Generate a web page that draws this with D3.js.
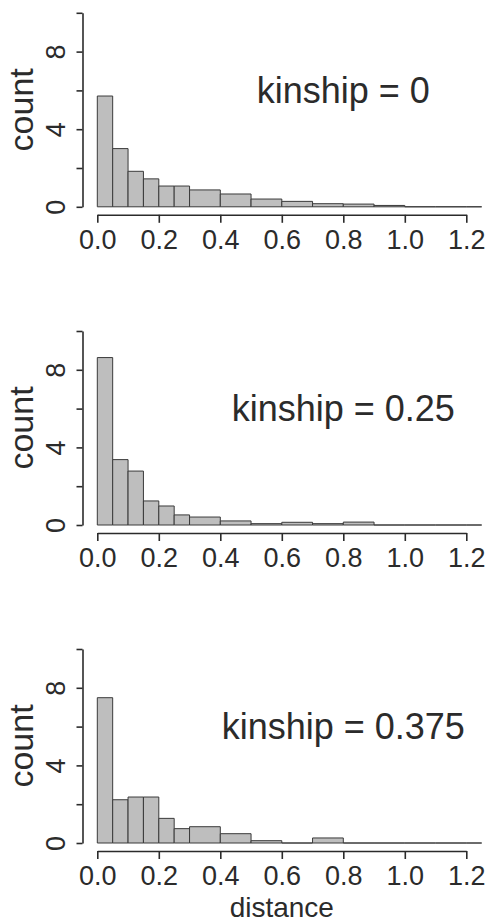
<!DOCTYPE html>
<html lang="en">
<head>
<meta charset="UTF-8">
<title>kinship histograms</title>
<script src="https://d3js.org/d3.v7.min.js"></script>
<style>
  html, body { margin: 0; padding: 0; background: #fff; }
  text { font-family: "Liberation Sans", Arial, sans-serif; fill: #2b2b2b; }
  .axis path, .axis line { fill: none; stroke: #2b2b2b; stroke-width: 1.6px; }
  path.bar { fill: #bebebe; stroke: #3a3a3a; stroke-width: 1px; }
</style>
</head>
<body>
<script>
// bin edges (distance) and count density per bin
var breaks = [0, 0.05, 0.1, 0.15, 0.2, 0.25, 0.3, 0.4, 0.5, 0.6, 0.7, 0.8, 0.9, 1.0, 1.1, 1.2, 1.3];
var kin0   = [5.71, 3.00, 1.83, 1.44, 1.07, 1.07, 0.87, 0.66, 0.40, 0.28, 0.16, 0.14, 0.07, 0, 0, 0];
var kin25  = [8.63, 3.37, 2.78, 1.24, 0.98, 0.52, 0.41, 0.21, 0.07, 0.14, 0.07, 0.15, 0, 0, 0, 0];
var kin375 = [7.49, 2.23, 2.37, 2.37, 1.27, 0.74, 0.84, 0.48, 0.12, 0, 0.26, 0, 0, 0, 0, 0];
var panelLabels = ["kinship = 0", "kinship = 0.25", "kinship = 0.375"];
var xTicks = [0, 0.2, 0.4, 0.6, 0.8, 1.0, 1.2];
var yTicks = [0, 2, 4, 6, 8, 10];
var yLabelled = [0, 4, 8];

var W = 488, H = 924;
var panelTops = [12.8, 331, 649];
var plotH = 194;

var x = d3.scaleLinear().domain([0, 1.2]).range([97.3, 466.3]);

var svg = d3.select("body").append("svg").attr("width", W).attr("height", H);

svg.append("clipPath").attr("id", "plotclip")
  .append("rect").attr("x", 0).attr("y", 0).attr("width", x(1.25)).attr("height", H);

[kin0, kin25, kin375].forEach(function(vals, i) {
  var top = panelTops[i];
  var y = d3.scaleLinear().domain([0, 10]).range([top + plotH, top]);
  var g = svg.append("g");

  var bins = vals.map(function(v, j) { return {x0: breaks[j], x1: breaks[j + 1], v: v}; });

  // bars as closed paths so empty bins still show as a flat line
  g.append("g").attr("clip-path", "url(#plotclip)")
    .selectAll("path").data(bins).join("path")
    .attr("class", "bar")
    .attr("d", function(d) {
      return "M" + x(d.x0) + "," + y(0) + "V" + y(d.v) + "H" + x(d.x1) + "V" + y(0) + "Z";
    });

  // x axis, drawn a little below the bars
  var xAxis = d3.axisBottom(x).tickValues(xTicks).tickFormat(d3.format(".1f"))
    .tickSize(8).tickSizeOuter(0);
  var gx = g.append("g").attr("class", "axis")
    .attr("transform", "translate(0," + (y(0) + 8) + ")").call(xAxis);
  gx.selectAll("text").attr("font-size", 27).attr("dy", null).attr("y", 34);

  // y axis
  var yAxis = d3.axisLeft(y).tickValues(yTicks).tickSize(6).tickSizeOuter(0)
    .tickFormat(function(d) { return yLabelled.indexOf(d) >= 0 ? d : ""; });
  var gy = g.append("g").attr("class", "axis")
    .attr("transform", "translate(82.5,0)").call(yAxis);
  gy.selectAll("text")
    .attr("font-size", 27)
    .attr("x", null).attr("dy", null)
    .attr("text-anchor", "middle")
    .attr("transform", "translate(-18,0) rotate(-90)");

  g.append("text")
    .attr("transform", "translate(33," + y(5) + ") rotate(-90)")
    .attr("text-anchor", "middle")
    .attr("font-size", 34)
    .text("count");

  g.append("text")
    .attr("x", x(0.8)).attr("y", y(6))
    .attr("dy", "0.35em")
    .attr("text-anchor", "middle")
    .attr("font-size", 36)
    .text(panelLabels[i]);
});

svg.append("text")
  .attr("x", x(0.6)).attr("y", 917)
  .attr("text-anchor", "middle")
  .attr("font-size", 28)
  .text("distance");
</script>
</body>
</html>
